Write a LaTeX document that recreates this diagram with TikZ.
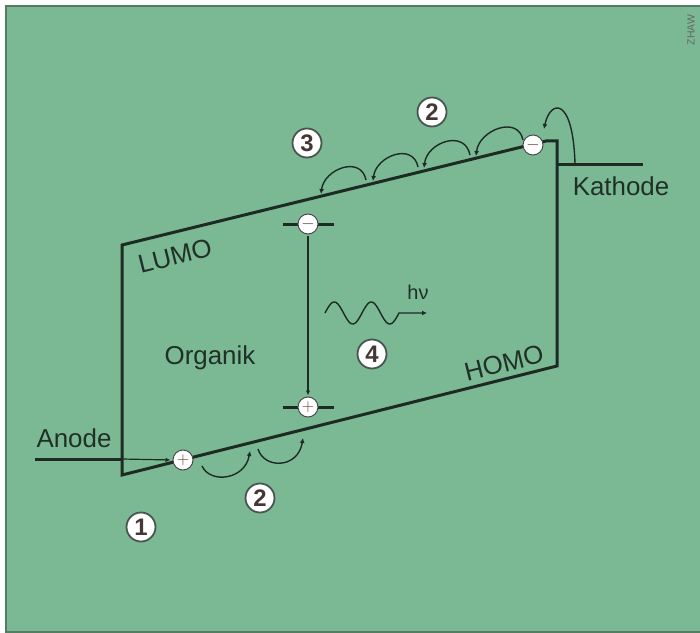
\documentclass[tikz,border=0pt]{standalone}
\usepackage{fontspec}
\setmainfont{Liberation Sans}
\usetikzlibrary{arrows.meta,calc}
\definecolor{bg}{RGB}{123,185,148}
\definecolor{edge}{RGB}{85,125,100}
\definecolor{ink}{RGB}{30,42,36}
\definecolor{txt}{RGB}{32,48,38}
\definecolor{sign}{RGB}{110,50,50}
\definecolor{digit}{RGB}{70,55,55}
\begin{document}
\begin{tikzpicture}[x=1bp,y=-1bp,
  frame/.style={draw=ink, line width=3bp, line join=miter},
  lead/.style={draw=ink, line width=3bp},
  hop/.style={draw=ink, line width=1.4bp, -{Latex[length=5bp,width=5bp]}},
  thinarrow/.style={draw=ink, line width=1.2bp, -{Latex[length=5bp,width=4.5bp]}},
  carrier/.style={circle, draw=gray!60!black, fill=white, line width=1bp, minimum size=20bp, inner sep=0pt, text=sign, font=\fontsize{16}{16}\selectfont},
  numlbl/.style={circle, draw=ink!80, fill=white, line width=1.8bp, minimum size=29bp, inner sep=0pt, text=digit, font=\fontsize{24}{24}\selectfont\bfseries},
  lbl/.style={text=txt, font=\fontsize{26}{26}\selectfont, inner sep=0pt}
]
\useasboundingbox (0,0) rectangle (700,633);
\fill[white] (0,0) rectangle (700,633);
\filldraw[fill=bg, draw=edge, line width=1.5bp] (6,6) rectangle (703,632);

% band diagram outline
\coordinate (TL) at (122,245);
\coordinate (TR) at (546,141);
\coordinate (TS) at (557,141);
\coordinate (BR) at (557,366);
\coordinate (BL) at (122,475);
\draw[frame] (TS) -- (BR) -- (BL) -- (TL) -- (TR) -- cycle;

% electrodes
\coordinate (AnL) at (35,459);
\coordinate (AnR) at (122,459);
\draw[lead] (AnL) -- (AnR);
\coordinate (KaL) at (557,165);
\coordinate (KaR) at (643,165);
\draw[lead] (KaL) -- (KaR);

% level bars
\coordinate (eL) at (283,224); \coordinate (eR) at (334,224);
\coordinate (hL) at (283,407); \coordinate (hR) at (334,407);
\draw[lead] (eL) -- (eR);
\draw[lead] (hL) -- (hR);

% carriers
\node[carrier] (e1) at (533,145) {$-$};
\node[carrier] (h1) at (183,460) {$+$};
\node[carrier] (e2) at (308,224) {$-$};
\node[carrier] (h2) at (308,407) {$+$};

% injection at anode
\draw[thinarrow, shorten >=2bp] (AnR) -- (h1.west);
% recombination
\draw[thinarrow, shorten <=1bp, shorten >=1bp] (e2.south) -- (h2.north);

% electron hops along LUMO
\coordinate (s1) at (523,140); \coordinate (t1) at (476,156);
\coordinate (s2) at (470,155); \coordinate (t2) at (424,168);
\coordinate (s3) at (418,167); \coordinate (t3) at (373,181);
\coordinate (s4) at (366,180); \coordinate (t4) at (321,194);
\draw[hop] (s1) .. controls (518,115) and (479,130) .. (t1);
\draw[hop] (s2) .. controls (465,129) and (427,142) .. (t2);
\draw[hop] (s3) .. controls (413,142) and (376,156) .. (t3);
\draw[hop] (s4) .. controls (361,155) and (324,169) .. (t4);

% electron injection at cathode
\coordinate (k0) at (575,164);
\coordinate (k1) at (544,129);
\draw[hop] (k0) .. controls (573,95) and (550,100) .. (k1);

% hole hops along HOMO
\coordinate (b1s) at (202,466); \coordinate (b1t) at (250,451);
\coordinate (b2s) at (258,449); \coordinate (b2t) at (303,438);
\draw[hop] (b1s) .. controls (210,484) and (245,480) .. (b1t);
\draw[hop] (b2s) .. controls (264,469) and (298,469) .. (b2t);

% photon
\coordinate (w0) at (325,313);
\coordinate (w1) at (427,313);
\draw[draw=ink, line width=1.4bp, -{Latex[length=5bp,width=5bp]}]
  plot[domain=0:2, samples=80, smooth] ({325+37*\x}, {313-11*sin(360*\x)}) -- (w1);
\node[text=txt, font=\fontsize{20}{20}\selectfont, inner sep=0pt] (hnu) at (418,292) {hν};

% labels
\node[lbl, anchor=base] (anode) at (74,447) {Anode};
\node[lbl, anchor=base] (kath) at (621,196) {Kathode};
\node[lbl, anchor=base] (org) at (210,364) {Organik};
\node[lbl, rotate=14] (lumo) at (175,256) {LUMO};
\node[lbl, rotate=14] (homo) at (504,363) {HOMO};

% step numbers
\node[numlbl] (n1) at (141,527) {1};
\node[numlbl] (n2b) at (260,498) {2};
\node[numlbl] (n2t) at (432,112) {2};
\node[numlbl] (n3) at (307,143) {3};
\node[numlbl] (n4) at (372,354) {4};

\node[rotate=90, text=black!60, font=\fontsize{10.5}{10.5}\selectfont, inner sep=0pt] (zhaw) at (691,30) {ZHAW};
\end{tikzpicture}
\end{document}
